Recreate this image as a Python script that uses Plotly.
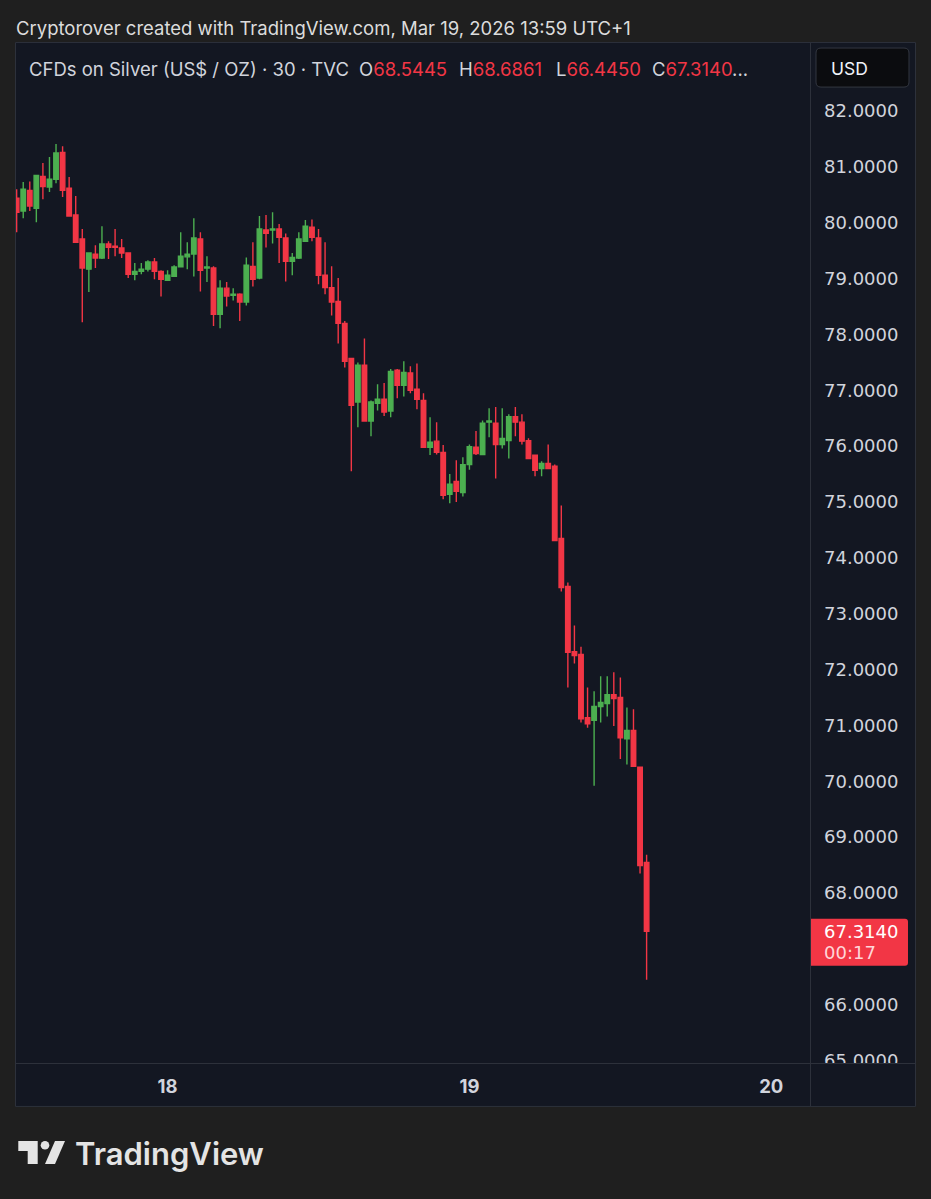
#!/usr/bin/env python
# coding=utf-8
import plotly.graph_objects as go

WIDTH = 931
HEIGHT = 1199

# 30 minute bars
opens = [
    80.44, 80.21, 80.58, 80.26, 80.83, 80.64, 80.78, 81.26, 80.62, 80.14,
    79.71, 79.17, 79.44, 79.37, 79.62, 79.58, 79.55, 79.46, 79.08, 79.13,
    79.17, 79.30, 79.13, 78.97, 79.04, 79.21, 79.39, 79.44, 79.71, 79.19,
    79.19, 78.36, 78.83, 78.70, 78.72, 78.58, 79.22, 79.01, 79.87, 79.87,
    79.89, 79.73, 79.31, 79.37, 79.67, 79.92, 79.73, 79.06, 78.84, 78.59,
    78.20, 77.57, 76.79, 77.45, 76.45, 76.77, 76.84, 76.63, 77.36, 77.09,
    77.31, 77.02, 76.82, 75.98, 76.09, 75.89, 75.14, 75.37, 75.17, 75.67,
    75.98, 75.85, 76.43, 76.41, 76.03, 76.10, 76.53, 76.43, 76.10, 75.84,
    75.60, 75.69, 75.64, 74.35, 73.49, 72.32, 72.27, 71.14, 71.09, 71.34,
    71.39, 71.55, 71.50, 70.76, 70.91, 70.25, 68.5445,
]
highs = [
    80.60, 80.73, 80.74, 80.85, 81.07, 81.18, 81.41, 81.37, 80.82, 80.48,
    79.89, 79.47, 79.60, 79.94, 79.67, 79.89, 79.71, 79.47, 79.28, 79.28,
    79.33, 79.37, 79.15, 79.15, 79.24, 79.83, 79.65, 80.08, 79.83, 79.40,
    79.22, 78.97, 78.94, 78.83, 78.74, 79.38, 79.65, 80.12, 80.14, 80.19,
    79.98, 79.81, 79.46, 79.83, 80.05, 80.06, 79.89, 79.65, 79.22, 79.01,
    78.24, 77.57, 77.50, 77.93, 76.82, 77.11, 77.13, 77.38, 77.38, 77.52,
    77.43, 77.48, 76.95, 76.52, 76.43, 76.02, 75.50, 75.75, 75.80, 76.03,
    76.27, 76.46, 76.68, 76.70, 76.68, 76.57, 76.70, 76.57, 76.14, 75.84,
    75.73, 76.03, 75.67, 74.94, 73.56, 72.79, 72.41, 71.68, 71.61, 71.88,
    71.88, 71.95, 71.86, 71.32, 71.29, 70.25, 68.6861,
]
lows = [
    79.83, 80.08, 80.21, 80.01, 80.42, 80.55, 80.71, 80.46, 80.12, 79.65,
    78.22, 78.76, 79.19, 79.35, 79.35, 79.40, 79.37, 79.01, 78.97, 79.08,
    79.13, 78.99, 78.68, 78.97, 79.04, 79.21, 79.17, 79.04, 78.77, 78.94,
    78.15, 78.11, 78.50, 78.61, 78.24, 78.52, 78.86, 78.99, 79.56, 79.63,
    79.28, 78.95, 79.06, 79.35, 79.67, 79.67, 78.90, 78.72, 78.34, 77.84,
    77.41, 75.55, 76.34, 76.45, 76.18, 76.64, 76.54, 76.52, 76.86, 76.89,
    76.95, 76.66, 75.98, 75.84, 75.85, 75.05, 74.98, 75.00, 75.10, 75.58,
    75.84, 75.84, 76.16, 75.42, 75.96, 75.78, 76.18, 76.03, 75.78, 75.46,
    75.46, 75.60, 74.31, 73.40, 71.68, 72.11, 71.05, 70.96, 69.92, 71.05,
    71.16, 70.99, 70.40, 70.30, 70.27, 68.35, 66.4450,
]
closes = [
    80.19, 80.60, 80.30, 80.85, 80.65, 80.78, 81.25, 80.58, 80.12, 79.65,
    79.19, 79.46, 79.37, 79.62, 79.56, 79.56, 79.46, 79.08, 79.13, 79.17,
    79.30, 79.13, 78.99, 79.06, 79.21, 79.40, 79.44, 79.73, 79.15, 79.21,
    78.36, 78.83, 78.69, 78.72, 78.58, 79.24, 78.99, 79.89, 79.81, 79.89,
    79.74, 79.31, 79.38, 79.71, 79.94, 79.74, 79.06, 78.84, 78.58, 78.20,
    77.52, 76.73, 77.45, 76.45, 76.79, 76.84, 76.61, 77.34, 77.09, 77.32,
    77.00, 76.84, 75.98, 76.07, 75.89, 75.12, 75.32, 75.19, 75.67, 75.99,
    75.87, 76.41, 76.45, 76.03, 76.14, 76.53, 76.43, 76.09, 75.78, 75.57,
    75.69, 75.60, 74.31, 73.47, 72.31, 72.25, 71.12, 71.03, 71.34, 71.41,
    71.55, 71.48, 70.78, 70.91, 70.27, 68.49, 67.3140,
]
bars = list(range(len(closes)))

day_ticks = [23, 69, 115]
day_labels = ["18", "19", "20"]
# 67 is hidden behind the last price label, 83 behind the currency button
price_ticks = [65, 66, 68, 69, 70, 71, 72, 73, 74, 75, 76, 77, 78, 79, 80, 81, 82]
price_labels = ["%.4f" % p for p in price_ticks]

caption = "Cryptorover created with TradingView.com, Mar 19, 2026 13:59 UTC+1"
symbol = "CFDs on Silver (US$ / OZ) · 30 · TVC"
ohlc_names = ["O", "H", "L", "C"]
ohlc_values = [opens[-1], highs[-1], lows[-1], closes[-1]]
ohlc_left = [358, 458, 555, 651]
currency = "USD"
last_price = "67.3140"
countdown = "00:17"

PAGE_BG = "#1f1f1f"
PANEL_BG = "#131722"
BORDER = "#2d313b"
TEXT = "#d1d4dc"
RED = "#f23645"
GREEN = "#4caf50"
LOGO = "#e4e4e4"
FONT = "Inter"
PRICE_FONT = "DejaVu Sans"  # its digits all have one width, like the original's


def px(x):
    return x / WIDTH


def py(y):
    return 1 - y / HEIGHT


def rect(x0, y0, x1, y1, fill, line=None, layer="above"):
    return dict(
        type="rect", xref="paper", yref="paper",
        x0=px(x0), x1=px(x1), y0=py(y0), y1=py(y1),
        fillcolor=fill, line=dict(color=line or fill, width=1 if line else 0),
        layer=layer,
    )


def poly(points, fill):
    path = "M " + " L ".join("%f,%f" % (px(x), py(y)) for x, y in points) + " Z"
    return dict(type="path", xref="paper", yref="paper", path=path,
                fillcolor=fill, line=dict(width=0), layer="above")


def rounded(x0, y0, x1, y1, r, fill, line=None, left=True):
    # rounded rectangle in page pixels, the left corners can stay square
    rl = r if left else 0
    path = "M %f,%f L %f,%f Q %f,%f %f,%f L %f,%f Q %f,%f %f,%f L %f,%f Q %f,%f %f,%f L %f,%f Q %f,%f %f,%f Z" % (
        px(x0 + rl), py(y0), px(x1 - r), py(y0), px(x1), py(y0), px(x1), py(y0 + r),
        px(x1), py(y1 - r), px(x1), py(y1), px(x1 - r), py(y1),
        px(x0 + rl), py(y1), px(x0), py(y1), px(x0), py(y1 - rl),
        px(x0), py(y0 + rl), px(x0), py(y0), px(x0 + rl), py(y0),
    )
    return dict(type="path", xref="paper", yref="paper", path=path, fillcolor=fill,
                line=dict(color=line or fill, width=1 if line else 0), layer="above")


def label(x, y, text, size, color=TEXT, weight=None, family=FONT):
    return dict(
        xref="paper", yref="paper", x=px(x), y=py(y), text=text, showarrow=False,
        xanchor="left", yanchor="middle", align="left", borderpad=0,
        font=dict(family=family, size=size, color=color, weight=weight),
    )


fig = go.Figure(
    go.Candlestick(
        x=bars, open=opens, high=highs, low=lows, close=closes,
        whiskerwidth=0,
        increasing=dict(line=dict(color=GREEN, width=1.4), fillcolor=GREEN),
        decreasing=dict(line=dict(color=RED, width=1.4), fillcolor=RED),
        hoverinfo="skip",
    )
)

shapes = [
    # panel behind the chart and both axes
    rect(15.5, 42.5, 915.5, 1105.5, PANEL_BG, BORDER, layer="below"),
    # cuts the 65.0000 label in half like the original
    rect(811, 1062, 915, 1105, PANEL_BG),
    rect(16, 1062, 915, 1063, BORDER),
    rect(810, 43, 811, 1105, BORDER),
    rounded(811, 918, 908, 965, 3, RED, left=False),
    rounded(816, 48, 909, 87, 5, "#0b0c0f", "#333741"),
    # logo
    poly([(18.3, 1140), (37.7, 1140), (37.7, 1163), (27.7, 1163), (27.7, 1150), (18.3, 1150)], LOGO),
    poly([(55, 1140), (65, 1140), (55, 1163), (45, 1163)], LOGO),
    dict(type="circle", xref="paper", yref="paper", x0=px(40.7), x1=px(49.3), y0=py(1140), y1=py(1148.6),
         fillcolor=LOGO, line=dict(width=0), layer="above"),
]

annotations = [
    label(15, 28, caption, 18.5, color="#dcdcdc"),
    label(27.5, 69, symbol, 18.5),
    label(830, 68, currency, 17.5, color="#f0f3fa"),
    label(823, 931, last_price, 18, color="#ffffff", family=PRICE_FONT),
    label(823, 952, countdown, 18, color="#ffd5d8", family=PRICE_FONT),
    label(74, 1153, "TradingView", 31, color=LOGO, weight=600),
]
for name, value, left in zip(ohlc_names, ohlc_values, ohlc_left):
    text = '%s<span style="color:%s">%.4f</span>' % (name, RED, value)
    annotations.append(label(left, 69, text + ("..." if name == "C" else ""), 18.5))

fig.update_layout(
    width=WIDTH,
    height=HEIGHT + 9,  # the page comes out shorter than asked for
    margin=dict(l=0, r=0, t=0, b=0),
    paper_bgcolor=PAGE_BG,
    plot_bgcolor=PANEL_BG,
    showlegend=False,
    boxgap=0.02,
    shapes=shapes,
    annotations=annotations,
    xaxis=dict(
        domain=[px(16), px(810)],
        range=[-0.1, 120.9],
        rangeslider=dict(visible=False),
        showgrid=False,
        zeroline=False,
        showline=False,
        ticks="",
        tickmode="array",
        tickvals=day_ticks,
        ticktext=day_labels,
        tickfont=dict(family=FONT, size=18.5, color=TEXT, weight=700),
        ticklabelstandoff=11,
    ),
    yaxis=dict(
        domain=[py(1062), py(43)],
        range=[64.957, 83.219],
        side="right",
        showgrid=False,
        zeroline=False,
        showline=False,
        ticks="",
        tickmode="array",
        tickvals=price_ticks,
        ticktext=price_labels,
        tickfont=dict(family=PRICE_FONT, size=18, color=TEXT),
        ticklabelstandoff=13,
    ),
)

# the page default adds an 8px margin round the plot
fig.write_html(
    "out.html",
    config=dict(displayModeBar=False, responsive=False),
    post_script="document.body.style.margin='0';",
)
